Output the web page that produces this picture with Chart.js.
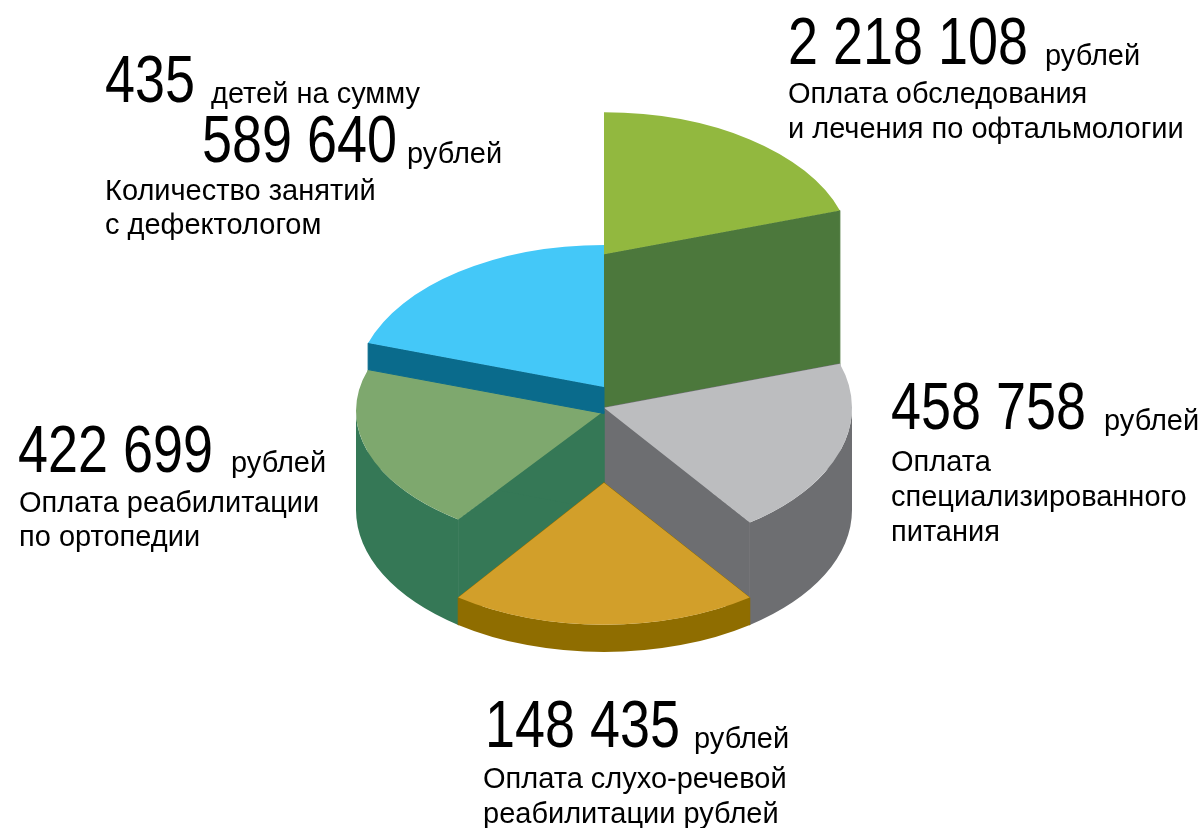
<!DOCTYPE html>
<html>
<head>
<meta charset="utf-8">
<style>
  html, body { margin: 0; padding: 0; background: #fff; }
  #pie { display: block; }
</style>
</head>
<body>
<canvas id="pie" width="1201" height="828"></canvas>
<script src="https://cdn.jsdelivr.net/npm/chart.js@4"></script>
<script>
// Данные (по часовой стрелке от 12 часов)
const categories = [
  ['Оплата обследования', 'и лечения по офтальмологии'],
  ['Оплата', 'специализированного', 'питания'],
  ['Оплата слухо-речевой', 'реабилитации рублей'],
  ['Оплата реабилитации', 'по ортопедии'],
  ['Количество занятий', 'с дефектологом']
];
const amounts = ['2 218 108', '458 758', '148 435', '422 699', '589 640'];
const sliceShares = [1, 1, 1, 1, 1]; // на рисунке все секторы равны
const unit = 'рублей';
const childrenCount = '435';
const childrenText = 'детей на сумму';

const topColors = ['#92b83f', '#bcbdbf', '#d29f2a', '#7ea86e', '#44c8f8'];
const wallColors = ['#4c783c', '#6d6e71', '#8f6d00', '#357856', '#0a6b8c'];

// Объём: уровень верха/низа центра и высота эллипса верха для каждого сектора
const solid = {
  ry: 142,
  top: [254.3, 407.7, 482.7, 411, 387],
  bottom: [408, 510, 510, 510, 413.5],
  topRy: [142, 142, 142, 134, 142],
  order: [0, 1, 3, 4, 2]
};

const SANS = '"Liberation Sans", Arial, sans-serif';
const BIG = '67px ' + SANS;
const SMALL = '29px ' + SANS;
const NARROW_X = 0.805; // узкое начертание чисел

// Подписи: x, y базовой линии числа, x и y единицы, x и y строк описания
const labelPos = [
  { x: 788, y: 64, ux: 1045, uy: 65, tx: 788, ty: [103, 138] },
  { x: 891, y: 429, ux: 1104, uy: 430, tx: 891, ty: [471, 506, 541] },
  { x: 485, y: 747, ux: 694, uy: 748, tx: 483, ty: [788, 823] },
  { x: 18, y: 472, ux: 231, uy: 472, tx: 19, ty: [512, 546] },
  { x: 202, y: 162, ux: 407, uy: 163, tx: 105, ty: [200, 234] }
];

function bigText(ctx, text, x, y) {
  ctx.save();
  ctx.translate(x, y);
  ctx.scale(NARROW_X, 1);
  ctx.font = BIG;
  ctx.fillText(text, 0, 0);
  ctx.restore();
}

const pie3d = {
  id: 'pie3d',
  beforeDatasetsDraw(chart) {
    const ctx = chart.ctx;
    const arcs = chart.getDatasetMeta(0).data;
    solid.order.forEach(i => {
      const arc = arcs[i];
      const r = arc.outerRadius;
      const cx = arc.x;
      const topY = solid.top[i];
      const botY = solid.bottom[i];
      const topR = solid.topRy[i];
      ctx.save();
      ctx.fillStyle = wallColors[i];
      ctx.strokeStyle = wallColors[i];
      ctx.lineWidth = 1;
      ctx.lineJoin = 'round';
      // боковые стенки-разрезы
      [arc.startAngle, arc.endAngle].forEach(a => {
        if (Math.abs(Math.cos(a)) < 1e-6) return; // вертикальная, её не видно
        ctx.beginPath();
        ctx.moveTo(cx, topY);
        ctx.lineTo(cx + r * Math.cos(a), topY + topR * Math.sin(a));
        ctx.lineTo(cx + r * Math.cos(a), botY + solid.ry * Math.sin(a));
        ctx.lineTo(cx, botY);
        ctx.closePath();
        ctx.fill();
        ctx.stroke();
      });
      // внешняя стенка видна только спереди
      const from = Math.max(arc.startAngle, 0);
      const to = Math.min(arc.endAngle, Math.PI);
      if (from < to) {
        ctx.beginPath();
        ctx.ellipse(cx, topY, r, topR, 0, from, to);
        ctx.ellipse(cx, botY, r, solid.ry, 0, to, from, true);
        ctx.closePath();
        ctx.fill();
      }
      // верх сектора рисует сам Chart.js, сплющенный по вертикали
      ctx.translate(cx, topY);
      ctx.scale(1, topR / r);
      ctx.translate(-cx, -arc.y);
      arc.draw(ctx);
      ctx.restore();
    });
    return false;
  },
  afterDraw(chart) {
    const ctx = chart.ctx;
    ctx.save();
    ctx.fillStyle = '#000';
    ctx.textBaseline = 'alphabetic';
    amounts.forEach((amount, i) => {
      const p = labelPos[i];
      bigText(ctx, amount, p.x, p.y);
      ctx.font = SMALL;
      ctx.fillText(unit, p.ux, p.uy);
      categories[i].forEach((line, j) => ctx.fillText(line, p.tx, p.ty[j]));
    });
    bigText(ctx, childrenCount, 105, 102);
    ctx.font = SMALL;
    ctx.fillText(childrenText, 211, 103);
    ctx.restore();
  }
};

new Chart(document.getElementById('pie').getContext('2d'), {
  type: 'pie',
  data: {
    labels: categories.map(c => c.join(' ')),
    datasets: [{
      data: sliceShares,
      backgroundColor: topColors,
      borderWidth: 0,
      radius: 248
    }]
  },
  options: {
    responsive: false,
    animation: false,
    layout: { padding: { left: 7 } },
    plugins: {
      legend: { display: false },
      tooltip: { enabled: false }
    }
  },
  plugins: [pie3d]
});
</script>
</body>
</html>
